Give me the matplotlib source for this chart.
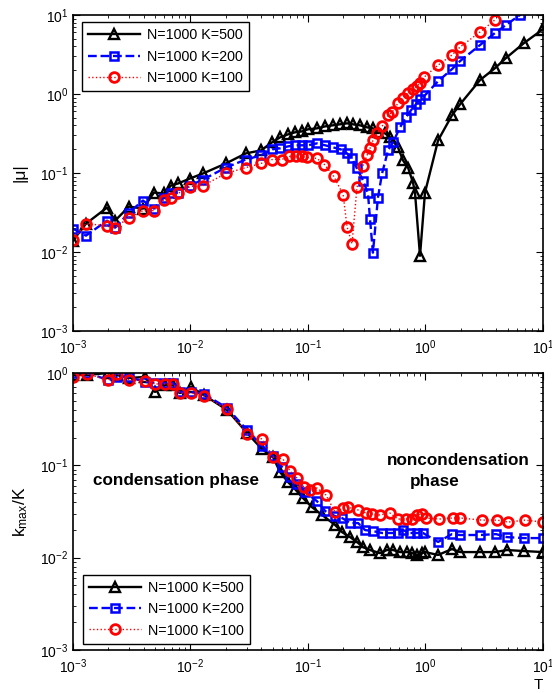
import matplotlib
matplotlib.use('Agg')
import matplotlib.pyplot as plt
import numpy as np

plt.rcParams['font.family'] = ['Liberation Sans', 'DejaVu Sans']
plt.rcParams['mathtext.fontset'] = 'custom'
plt.rcParams['mathtext.rm'] = 'Liberation Sans'
plt.rcParams['mathtext.it'] = 'Liberation Sans:italic'
plt.rcParams['mathtext.bf'] = 'Liberation Sans:bold'

labels = ['N=1000 K=500', 'N=1000 K=200', 'N=1000 K=100']

# top panel: |mu| vs T
T500_top = [0.001, 0.00129, 0.00195, 0.00228, 0.0030, 0.00394, 0.00489, 0.00594, 0.00682, 0.00783,
            0.0099, 0.0128, 0.020, 0.0296, 0.0398, 0.0494, 0.0578, 0.0676, 0.0775, 0.0889,
            0.100, 0.119, 0.140, 0.163, 0.187, 0.215, 0.241, 0.277, 0.318, 0.357,
            0.394, 0.452, 0.499, 0.583, 0.644, 0.710, 0.783, 0.815, 0.898, 0.99,
            1.28, 1.68, 1.97, 2.91, 3.90, 4.84, 6.89, 9.8]
mu500 = [0.0139, 0.0228, 0.0365, 0.0249, 0.0376, 0.0354, 0.0565, 0.055, 0.0693, 0.0736,
         0.0851, 0.0986, 0.132, 0.177, 0.193, 0.244, 0.282, 0.308, 0.327, 0.336,
         0.357, 0.367, 0.389, 0.401, 0.413, 0.425, 0.413, 0.401, 0.378, 0.367,
         0.327, 0.318, 0.282, 0.211, 0.144, 0.117, 0.0757, 0.055, 0.00895, 0.0565,
         0.259, 0.537, 0.741, 1.50, 2.12, 2.85, 4.41, 6.46]

T200_top = [0.001, 0.00129, 0.00195, 0.00228, 0.0030, 0.00394, 0.00489, 0.00594, 0.00682, 0.00783,
            0.0099, 0.0128, 0.020, 0.0296, 0.0398, 0.0494, 0.0578, 0.0676, 0.0775, 0.0889,
            0.100, 0.119, 0.140, 0.163, 0.190, 0.215, 0.237, 0.261, 0.294, 0.324,
            0.337, 0.357, 0.394, 0.427, 0.480, 0.529, 0.607, 0.682, 0.753, 0.830,
            0.898, 0.99, 1.28, 1.68, 1.97, 2.91, 3.90, 4.84, 6.37, 9.8]
mu200 = [0.0197, 0.0161, 0.0249, 0.0203, 0.0315, 0.0448, 0.0354, 0.0489, 0.055, 0.0565,
         0.0693, 0.0826, 0.117, 0.148, 0.167, 0.199, 0.205, 0.217, 0.224, 0.224,
         0.224, 0.237, 0.224, 0.211, 0.199, 0.177, 0.153, 0.114, 0.0803, 0.055,
         0.0264, 0.0098, 0.0489, 0.0986, 0.193, 0.244, 0.378, 0.507, 0.622, 0.741,
         0.857, 0.964, 1.45, 2.06, 2.61, 4.16, 5.91, 7.47, 10.0, 14.0]

T100_top = [0.001, 0.00129, 0.00195, 0.00228, 0.0030, 0.00394, 0.00489, 0.00594, 0.00682, 0.00783,
            0.0099, 0.0128, 0.020, 0.0296, 0.0398, 0.0494, 0.0596, 0.0690, 0.0790, 0.0889,
            0.098, 0.119, 0.138, 0.166, 0.199, 0.215, 0.237, 0.261, 0.294, 0.318,
            0.337, 0.357, 0.386, 0.427, 0.480, 0.519, 0.583, 0.644, 0.710, 0.783,
            0.847, 0.898, 0.971, 1.28, 1.68, 1.97, 2.91, 3.90]
mu100 = [0.0143, 0.0228, 0.0215, 0.0203, 0.0272, 0.0334, 0.0334, 0.046, 0.0489, 0.055,
         0.0674, 0.0693, 0.0986, 0.117, 0.132, 0.148, 0.148, 0.162, 0.162, 0.162,
         0.157, 0.153, 0.128, 0.0903, 0.0533, 0.0209, 0.0127, 0.0655, 0.124, 0.167,
         0.205, 0.259, 0.318, 0.389, 0.537, 0.586, 0.764, 0.883, 1.02, 1.15,
         1.25, 1.37, 1.63, 2.32, 3.11, 3.93, 6.08, 8.65]

# bottom panel: k_max/K vs T
T500_bot = [0.001, 0.00132, 0.00199, 0.00237, 0.0030, 0.0041, 0.00499, 0.00607, 0.0071, 0.00814,
            0.0101, 0.0130, 0.0205, 0.0303, 0.0406, 0.0504, 0.0578, 0.0676, 0.0775, 0.0906,
            0.108, 0.132, 0.170, 0.195, 0.228, 0.261, 0.294, 0.337, 0.410, 0.470,
            0.529, 0.607, 0.696, 0.768, 0.847, 0.934, 0.99, 1.28, 1.68, 1.97,
            2.91, 3.90, 4.94, 6.89, 10.0]
k500 = [0.951, 0.951, 1.0, 0.951, 0.883, 0.905, 0.623, 0.741, 0.741, 0.607,
        0.705, 0.578, 0.397, 0.224, 0.150, 0.123, 0.0846, 0.0659, 0.0553, 0.0442,
        0.0353, 0.0290, 0.0226, 0.0189, 0.0167, 0.0148, 0.0130, 0.0121, 0.0112, 0.0121,
        0.0121, 0.0115, 0.0115, 0.0112, 0.0107, 0.0112, 0.0115, 0.0107, 0.0124, 0.0115,
        0.0115, 0.0115, 0.0121, 0.0118, 0.0115]

T200_bot = [0.001, 0.00132, 0.00199, 0.00237, 0.0030, 0.0041, 0.00499, 0.00607, 0.0071, 0.00814,
            0.0101, 0.0130, 0.0205, 0.0303, 0.0406, 0.0504, 0.0601, 0.0703, 0.0806, 0.0942,
            0.119, 0.140, 0.170, 0.195, 0.228, 0.267, 0.306, 0.357, 0.427, 0.499,
            0.583, 0.644, 0.738, 0.847, 0.953, 1.28, 1.68, 1.97, 2.91, 3.98,
            4.94, 6.89, 10.0]
k200 = [1.0, 1.0, 0.840, 0.905, 0.905, 0.799, 0.780, 0.780, 0.780, 0.623,
        0.623, 0.592, 0.418, 0.241, 0.162, 0.126, 0.0959, 0.0747, 0.0627, 0.0514,
        0.0410, 0.0320, 0.0282, 0.0269, 0.0237, 0.0237, 0.0199, 0.0194, 0.0185, 0.0185,
        0.0185, 0.0199, 0.0185, 0.0185, 0.0185, 0.0148, 0.0180, 0.0176, 0.0176, 0.0180,
        0.0167, 0.0163, 0.0163]

T100_bot = [0.001, 0.00132, 0.00199, 0.00237, 0.0030, 0.0041, 0.00499, 0.00607, 0.0071, 0.00814,
            0.0101, 0.0130, 0.0205, 0.0303, 0.0406, 0.0504, 0.0612, 0.0703, 0.0806, 0.0924,
            0.104, 0.119, 0.142, 0.170, 0.199, 0.219, 0.267, 0.312, 0.351, 0.410,
            0.499, 0.583, 0.682, 0.768, 0.847, 0.934, 1.01, 1.30, 1.71, 1.97,
            3.03, 4.06, 5.04, 7.03, 10.0]
k100 = [0.905, 0.975, 0.840, 0.975, 0.840, 0.819, 0.760, 0.760, 0.760, 0.607,
        0.607, 0.563, 0.407, 0.218, 0.193, 0.123, 0.117, 0.0867, 0.0728, 0.0582,
        0.0540, 0.0568, 0.0477, 0.0312, 0.0345, 0.0353, 0.0328, 0.0304, 0.0297, 0.0290,
        0.0304, 0.0262, 0.0262, 0.0262, 0.0290, 0.0297, 0.0269, 0.0262, 0.0269, 0.0269,
        0.0255, 0.0255, 0.0243, 0.0255, 0.0243]

styles = [
    dict(color='k', ls='-', lw=1.7, marker='^', ms=7.5, mfc='none', mew=1.7),
    dict(color='#0000ff', ls='--', lw=1.7, marker='s', ms=5.5, mfc='none', mew=1.8),
    dict(color='r', ls=':', lw=1.0, marker='o', ms=7, mfc='none', mew=2.0),
]

fig = plt.figure(figsize=(5.52, 6.93), dpi=100)
ax1 = fig.add_axes([0.1322, 0.5224, 0.8515, 0.4560])
ax2 = fig.add_axes([0.1322, 0.0620, 0.8515, 0.3998])

for T, y, st, lab in zip([T500_top, T200_top, T100_top], [mu500, mu200, mu100], styles, labels):
    ax1.plot(T, y, label=lab, **st)
for T, y, st, lab in zip([T500_bot, T200_bot, T100_bot], [k500, k200, k100], styles, labels):
    ax2.plot(T, y, label=lab, **st)

for ax in (ax1, ax2):
    ax.set_xscale('log')
    ax.set_yscale('log')
    ax.set_xlim(1e-3, 1e1)
    ax.tick_params(which='both', direction='in', top=True, right=True, labelsize=10)
    ax.tick_params(which='major', length=5, width=0.8)
    ax.tick_params(which='minor', length=2.5, width=0.6)
    ax.tick_params(axis='x', pad=5)
    for s in ax.spines.values():
        s.set_linewidth(1.2)

ax1.set_ylim(1e-3, 1e1)
ax2.set_ylim(1e-3, 1e0)

ax1.set_ylabel('|\u03bc|', fontsize=12.5, labelpad=9)
ax2.set_ylabel('k$_{\\mathrm{max}}$/K', fontsize=12.5, labelpad=7)
ax2.set_xlabel('T', loc='right', fontsize=11, labelpad=2)

ax2.text(0.00148, 0.069, 'condensation phase', fontsize=12.3, fontweight='bold', va='center')
ax2.text(0.47, 0.114, 'noncondensation', fontsize=12.3, fontweight='bold', va='center')
ax2.text(0.74, 0.066, 'phase', fontsize=12.3, fontweight='bold', va='center')

leg_kw = dict(fontsize=10.3, frameon=True, fancybox=False, framealpha=1, edgecolor='k',
              handlelength=3.6, handletextpad=0.5, borderaxespad=0, labelspacing=0.5,
              borderpad=0.45)
l1 = ax1.legend(loc='upper left', bbox_to_anchor=(0.019, 0.978), **leg_kw)
l2 = ax2.legend(loc='lower left', bbox_to_anchor=(0.021, 0.022), **leg_kw)
for l in (l1, l2):
    l.get_frame().set_linewidth(1.0)

fig.savefig('out.png', dpi=100)
